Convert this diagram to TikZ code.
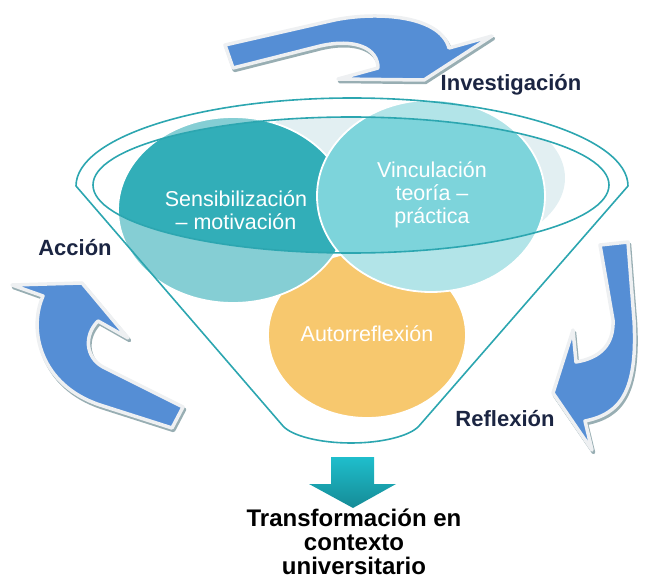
\documentclass[tikz,border=0pt]{standalone}
\usepackage{fontspec}
\setmainfont{Liberation Sans}

\definecolor{funnelline}{HTML}{2CA6B0}
\definecolor{sensdark}{HTML}{32AEB8}
\definecolor{senslight}{HTML}{85CED4}
\definecolor{vincdark}{HTML}{7DD4DB}
\definecolor{vinclight}{HTML}{B2E4E8}
\definecolor{autofill}{HTML}{F7C86E}
\definecolor{haze}{HTML}{E2EFF2}
\definecolor{turnblue}{HTML}{558ED5}
\definecolor{turnrim}{HTML}{EEF0F2}
\definecolor{turnshade}{HTML}{98AEB3}
\definecolor{labelnavy}{HTML}{1B2542}
\definecolor{droptop}{HTML}{1FBECC}
\definecolor{dropbottom}{HTML}{158B96}

\newlength{\du}
\setlength{\du}{1pt}

\begin{document}
\begin{tikzpicture}[
  funnel/.style={draw=funnelline, line width=1.6\du},
  bubble/.style={draw=white, line width=1.8\du},
  bubbletext/.style={text=white, align=center, font=\fontsize{21.5}{23}\selectfont},
  cyclelabel/.style={text=labelnavy, font=\bfseries\fontsize{22}{24}\selectfont},
  turnarrow/.style={fill=turnblue, draw=turnrim, line width=3.5\du, line join=round,
    preaction={fill=turnshade, draw=turnshade, line width=3.5\du, line join=round,
      transform canvas={xshift=1.5pt, yshift=-2.5pt}}}
]
\pgftransformxscale{1.000000}
\pgftransformyscale{-1.000000}
\useasboundingbox (0\du,0\du) rectangle (646\du,580\du);

% mouth of the funnel
\coordinate (mouth) at (351\du,185\du);
\begin{scope}
\clip (mouth) ellipse [x radius=258\du, y radius=68\du];
\fill[haze] (440\du,178\du) ellipse [x radius=125\du, y radius=75\du];
\fill[haze] (330\du,135\du) ellipse [x radius=60\du, y radius=30\du];
\end{scope}

% Autorreflexión
\fill[autofill] (367\du,335\du) ellipse [x radius=99\du, y radius=83\du];
\draw[bubble] (367\du,335\du) ellipse [x radius=99\du, y radius=83\du];

% Sensibilización
\fill[senslight] (233\du,210\du) ellipse [x radius=115\du, y radius=93\du];
\begin{scope}
\clip (233\du,210\du) ellipse [x radius=115\du, y radius=93\du];
\fill[sensdark] (mouth) ellipse [x radius=258\du, y radius=68\du];
\end{scope}
\draw[bubble] (233\du,210\du) ellipse [x radius=115\du, y radius=93\du];

% Vinculación
\fill[vinclight] (431\du,196\du) ellipse [x radius=114\du, y radius=96\du];
\begin{scope}
\clip (431\du,196\du) ellipse [x radius=114\du, y radius=96\du];
\fill[vincdark] (mouth) ellipse [x radius=258\du, y radius=68\du];
\end{scope}
\draw[bubble] (431\du,196\du) ellipse [x radius=114\du, y radius=96\du];

\node[bubbletext] (sens) at (236\du,210\du) {Sensibilización\\– motivación};
\node[bubbletext] (vinc) at (432\du,195\du) {Vinculación\\teoría –\\práctica};
\node[bubbletext] (auto) at (367\du,334\du) {Autorreflexión};

% funnel outline
\draw[funnel] (mouth) ellipse [x radius=258\du, y radius=68\du];
\draw[funnel, line join=round] (76\du,186\du) arc [start angle=180, end angle=360, x radius=276\du, y radius=88\du]
  -- (419\du,426\du) .. controls (410\du,436\du) and (382\du,443\du) .. (351\du,443\du)
  .. controls (320\du,443\du) and (292\du,436\du) .. (283\du,426\du) -- cycle;

% cycle arrows
\draw[turnarrow] (225\du,45\du) -- (330\du,21\du) .. controls (372\du,11\du) and (440\du,14\du) .. (449\du,48\du)
  -- (492\du,36\du) -- (424\du,80\du) -- (338\du,79\du) -- (378\du,68\du)
  .. controls (378\du,48\du) and (355\du,38\du) .. (320\du,46\du) -- (233\du,68\du) -- cycle;
\draw[turnarrow] (600\du,245\du) -- (628\du,242\du) -- (634\du,320\du)
  .. controls (638\du,392\du) and (620\du,414\du) .. (585\du,421\du)
  -- (592\du,450\du) -- (553\du,393\du) -- (573\du,330\du) -- (576\du,362\du)
  .. controls (600\du,358\du) and (614\du,345\du) .. (613\du,320\du) -- cycle;
\draw[turnarrow] (183\du,407\du) -- (103\du,367\du) .. controls (85\du,357\du) and (84\du,335\du) .. (98\du,321\du)
  -- (128\du,338\du) -- (82\du,283\du) -- (12\du,285\du) -- (43\du,296\du)
  .. controls (28\du,330\du) and (40\du,385\du) .. (100\du,405\du) -- (172\du,428\du) -- cycle;

\node[cyclelabel] (invest) at (511\du,85\du) {Investigación};
\node[cyclelabel] (accion) at (75\du,248\du) {Acción};
\node[cyclelabel] (reflex) at (505\du,419\du) {Reflexión};

% outcome
\shade[top color=droptop, bottom color=dropbottom] (331\du,457\du) -- (374\du,457\du) -- (374\du,484\du)
  -- (396\du,484\du) -- (353\du,508\du) -- (309\du,484\du) -- (331\du,484\du) -- cycle;
\node[text=black, align=center, font=\bfseries\fontsize{24}{24}\selectfont] (outcome) at (354\du,542\du)
  {Transformación en\\contexto\\universitario};
\end{tikzpicture}
\end{document}
